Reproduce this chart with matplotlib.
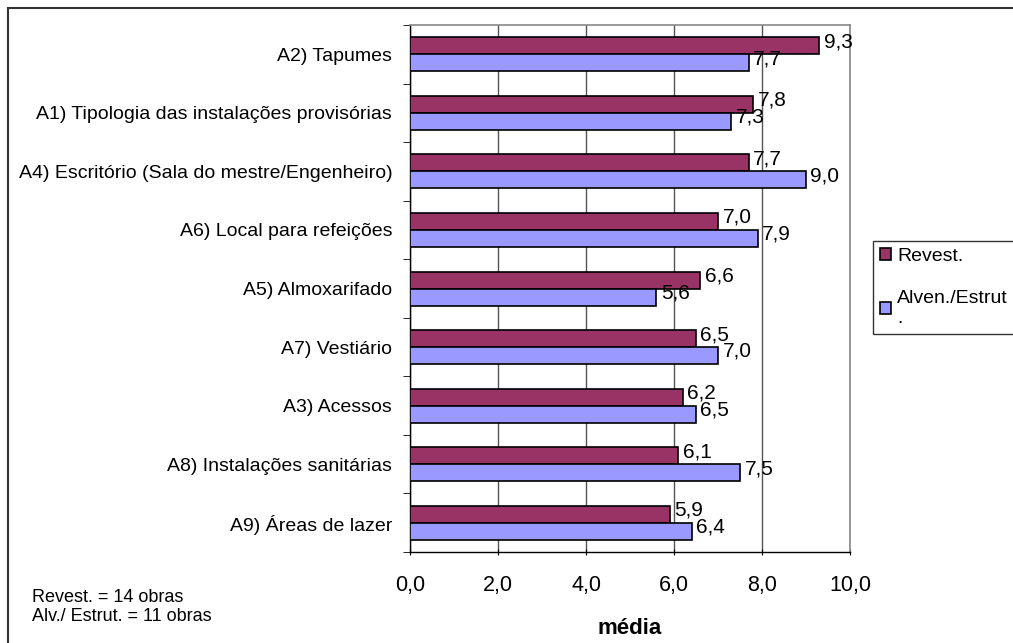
import matplotlib.pyplot as plt
import numpy as np
from matplotlib.patches import Rectangle

plt.rcParams['font.family'] = ['Liberation Sans', 'DejaVu Sans']

categories = ['A2) Tapumes',
              'A1) Tipologia das instalações provisórias',
              'A4) Escritório (Sala do mestre/Engenheiro)',
              'A6) Local para refeições',
              'A5) Almoxarifado',
              'A7) Vestiário',
              'A3) Acessos',
              'A8) Instalações sanitárias',
              'A9) Áreas de lazer']
revest = [9.3, 7.8, 7.7, 7.0, 6.6, 6.5, 6.2, 6.1, 5.9]
alven = [7.7, 7.3, 9.0, 7.9, 5.6, 7.0, 6.5, 7.5, 6.4]
xticks = [0, 2, 4, 6, 8, 10]

fig = plt.figure(figsize=(10.13, 6.43), dpi=100)
ax = fig.add_axes([0.405, 0.1415, 0.434, 0.8195])

# outer frame
fig.patches.append(Rectangle((8 / 1013, -0.01), 1.1, 1 - 8 / 643 + 0.01,
                             transform=fig.transFigure, fill=False,
                             edgecolor='#333333', linewidth=1.5))

n = len(categories)
y = np.arange(n)
h = 0.29
ax.barh(y - h / 2, revest, height=h, color='#993366', edgecolor='black',
        linewidth=1.2, label='Revest.', zorder=3)
ax.barh(y + h / 2, alven, height=h, color='#9999FF', edgecolor='black',
        linewidth=1.2, label='Alven./Estrut\n.', zorder=3)

for i in range(n):
    ax.text(revest[i] + 0.1, y[i] - h / 2 - 0.07, f'{revest[i]:.1f}'.replace('.', ','),
            va='center', ha='left', fontsize=15, zorder=4)
    ax.text(alven[i] + 0.1, y[i] + h / 2 - 0.07, f'{alven[i]:.1f}'.replace('.', ','),
            va='center', ha='left', fontsize=15, zorder=4)

ax.set_ylim(n - 0.5, -0.5)
ax.set_xlim(0, 10)
ax.set_xticks(xticks)
ax.set_xticklabels([f'{v:.1f}'.replace('.', ',') for v in xticks], fontsize=15.5)
ax.set_yticks(y)
ax.set_yticklabels(categories, fontsize=14)
ax.tick_params(axis='y', length=0, pad=13)
ax.set_yticks(np.arange(n + 1) - 0.5, minor=True)
ax.tick_params(axis='y', which='minor', length=5, direction='out')
ax.tick_params(axis='x', length=5, direction='inout', pad=14)
ax.grid(axis='x', color='#555555', linewidth=1, zorder=0)
ax.set_xlabel('média', fontsize=16, fontweight='bold', labelpad=16)

for s in ['top', 'right']:
    ax.spines[s].set_color('#888888')
    ax.spines[s].set_linewidth(1.2)
for s in ['left', 'bottom']:
    ax.spines[s].set_color('black')
    ax.spines[s].set_linewidth(1)

leg = ax.legend(loc='upper left', bbox_to_anchor=(873 / 1013, 1 - 241 / 643),
                bbox_transform=fig.transFigure, fontsize=14, frameon=True,
                fancybox=False, edgecolor='black', handlelength=0.6,
                handleheight=0.6, handletextpad=0.3, labelspacing=1.3,
                borderpad=0.35, borderaxespad=0)
leg.get_frame().set_linewidth(1)

fig.text(32 / 1013, 1 - 607 / 643, 'Revest. = 14 obras\nAlv./ Estrut. = 11 obras',
         fontsize=13, va='center', ha='left', linespacing=1.1)

fig.savefig('out.png', dpi=100)
